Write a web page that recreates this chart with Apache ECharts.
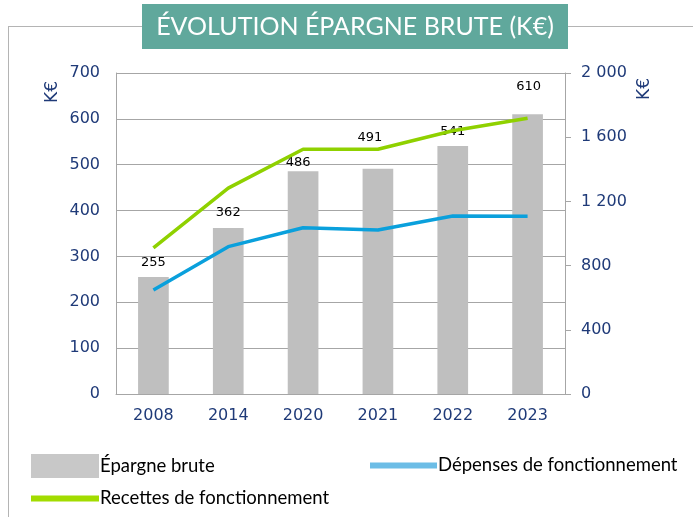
<!DOCTYPE html>
<html>
<head>
<meta charset="utf-8">
<script src="https://cdn.jsdelivr.net/npm/echarts@6/dist/echarts.min.js"></script>
<style>
  html, body { margin: 0; padding: 0; background: #fff; }
  #chart { width: 693px; height: 517px; }
</style>
</head>
<body>
<div id="chart"></div>
<script>
// --- Data ---
const years = ['2008', '2014', '2020', '2021', '2022', '2023'];
const epargneBrute = [255, 362, 486, 491, 541, 610];
const recettesFonct = [910, 1283, 1525, 1525, 1640, 1718];
const depensesFonct = [648, 918, 1036, 1022, 1109, 1107];

// label nudges (Excel had them moved by hand)
const labelOffsets = [[0, -3], [0, -3.5], [-5, 3], [-8, -20], [0, -3], [1, -16.5]];

const navy = '#1f3a78';
const gridGrey = '#a6a6a6';
const titleFont = 'Lato, "Open Sans", sans-serif';
const numFont = 'DejaVu Sans, Verdana, sans-serif';

const chart = echarts.init(document.getElementById('chart'));

function spaced(v) {
    return String(v).replace(/\B(?=(\d{3})+(?!\d))/g, ' ');
}

function legendBlock(name, color, left, top, w, h, padTop) {
    return {
        left: left, top: top, itemWidth: w, itemHeight: h, itemGap: 0,
        icon: 'rect', selectedMode: false,
        textStyle: { fontFamily: titleFont, fontSize: 18.5, color: '#000', padding: [padTop, 0, 0, -4] },
        data: [{ name: name, itemStyle: { color: color } }]
    };
}

const option = {
    animation: false,
    backgroundColor: '#fff',
    grid: { left: 116, right: 128, top: 73, bottom: 123 },
    legend: [
        legendBlock('Épargne brute', '#c8c8c8', 26, 449, 68, 24, 8),
        legendBlock('Recettes de fonctionnement', '#a2dc00', 26, 484, 68, 6, 0),
        legendBlock('Dépenses de fonctionnement', '#6cbde6', 365, 451, 67, 6, 0)
    ],
    xAxis: {
        type: 'category',
        data: years,
        axisLine: { lineStyle: { color: gridGrey, width: 1 } },
        axisTick: { show: false },
        axisLabel: { color: navy, fontFamily: numFont, fontSize: 16, margin: 14 }
    },
    yAxis: [
        {
            type: 'value', min: 0, max: 700, interval: 100,
            axisLine: { show: true, lineStyle: { color: gridGrey } },
            axisTick: { show: false },
            splitLine: { lineStyle: { color: gridGrey, width: 1 } },
            axisLabel: { color: navy, fontFamily: numFont, fontSize: 16, margin: 16 }
        },
        {
            type: 'value', min: 0, max: 2000, interval: 400,
            position: 'right',
            axisLine: { show: true, lineStyle: { color: gridGrey } },
            axisTick: { show: true, inside: false, length: 6, lineStyle: { color: gridGrey } },
            splitLine: { show: false },
            axisLabel: {
                color: navy, fontFamily: numFont, fontSize: 16, margin: 16,
                formatter: v => spaced(v)
            }
        }
    ],
    series: [
        {
            name: 'Épargne brute',
            type: 'bar',
            yAxisIndex: 0,
            barWidth: '41%',
            itemStyle: { color: '#bfbfbf' },
            data: epargneBrute.map((v, i) => ({
                value: v,
                label: { offset: labelOffsets[i] }
            })),
            label: {
                show: true, position: 'top', distance: 5,
                color: '#000', fontFamily: numFont, fontSize: 13
            },
            z: 2
        },
        {
            name: 'Recettes de fonctionnement',
            type: 'line',
            yAxisIndex: 1,
            data: recettesFonct,
            showSymbol: false,
            symbol: 'none',
            lineStyle: { color: '#8fd100', width: 3.5 },
            itemStyle: { color: '#8fd100' },
            z: 3
        },
        {
            name: 'Dépenses de fonctionnement',
            type: 'line',
            yAxisIndex: 1,
            data: depensesFonct,
            showSymbol: false,
            symbol: 'none',
            lineStyle: { color: '#0aa0dc', width: 3.5 },
            itemStyle: { color: '#0aa0dc' },
            z: 3
        }
    ],
    graphic: [
        // outer frame
        { type: 'line', shape: { x1: 8, y1: 26.5, x2: 142, y2: 26.5 }, style: { stroke: '#b4b4b4', lineWidth: 1 } },
        { type: 'line', shape: { x1: 568, y1: 26.5, x2: 693, y2: 26.5 }, style: { stroke: '#b4b4b4', lineWidth: 1 } },
        { type: 'line', shape: { x1: 8.5, y1: 26, x2: 8.5, y2: 517 }, style: { stroke: '#b4b4b4', lineWidth: 1 } },
        // title box
        { type: 'rect', shape: { x: 142, y: 4, width: 426, height: 45 }, style: { fill: '#60a89c' } },
        {
            type: 'text', x: 355, y: 27,
            style: {
                text: 'ÉVOLUTION ÉPARGNE BRUTE (K€)', fill: '#fff',
                font: '25px ' + titleFont, align: 'center', verticalAlign: 'middle'
            }
        },
        // axis units
        {
            type: 'text', x: 53, y: 92, rotation: Math.PI / 2,
            style: { text: 'K€', fill: navy, font: '17px ' + numFont, align: 'center', verticalAlign: 'middle' }
        },
        {
            type: 'text', x: 645, y: 89, rotation: Math.PI / 2,
            style: { text: 'K€', fill: navy, font: '17px ' + numFont, align: 'center', verticalAlign: 'middle' }
        }
    ]
};

chart.setOption(option);
</script>
</body>
</html>
